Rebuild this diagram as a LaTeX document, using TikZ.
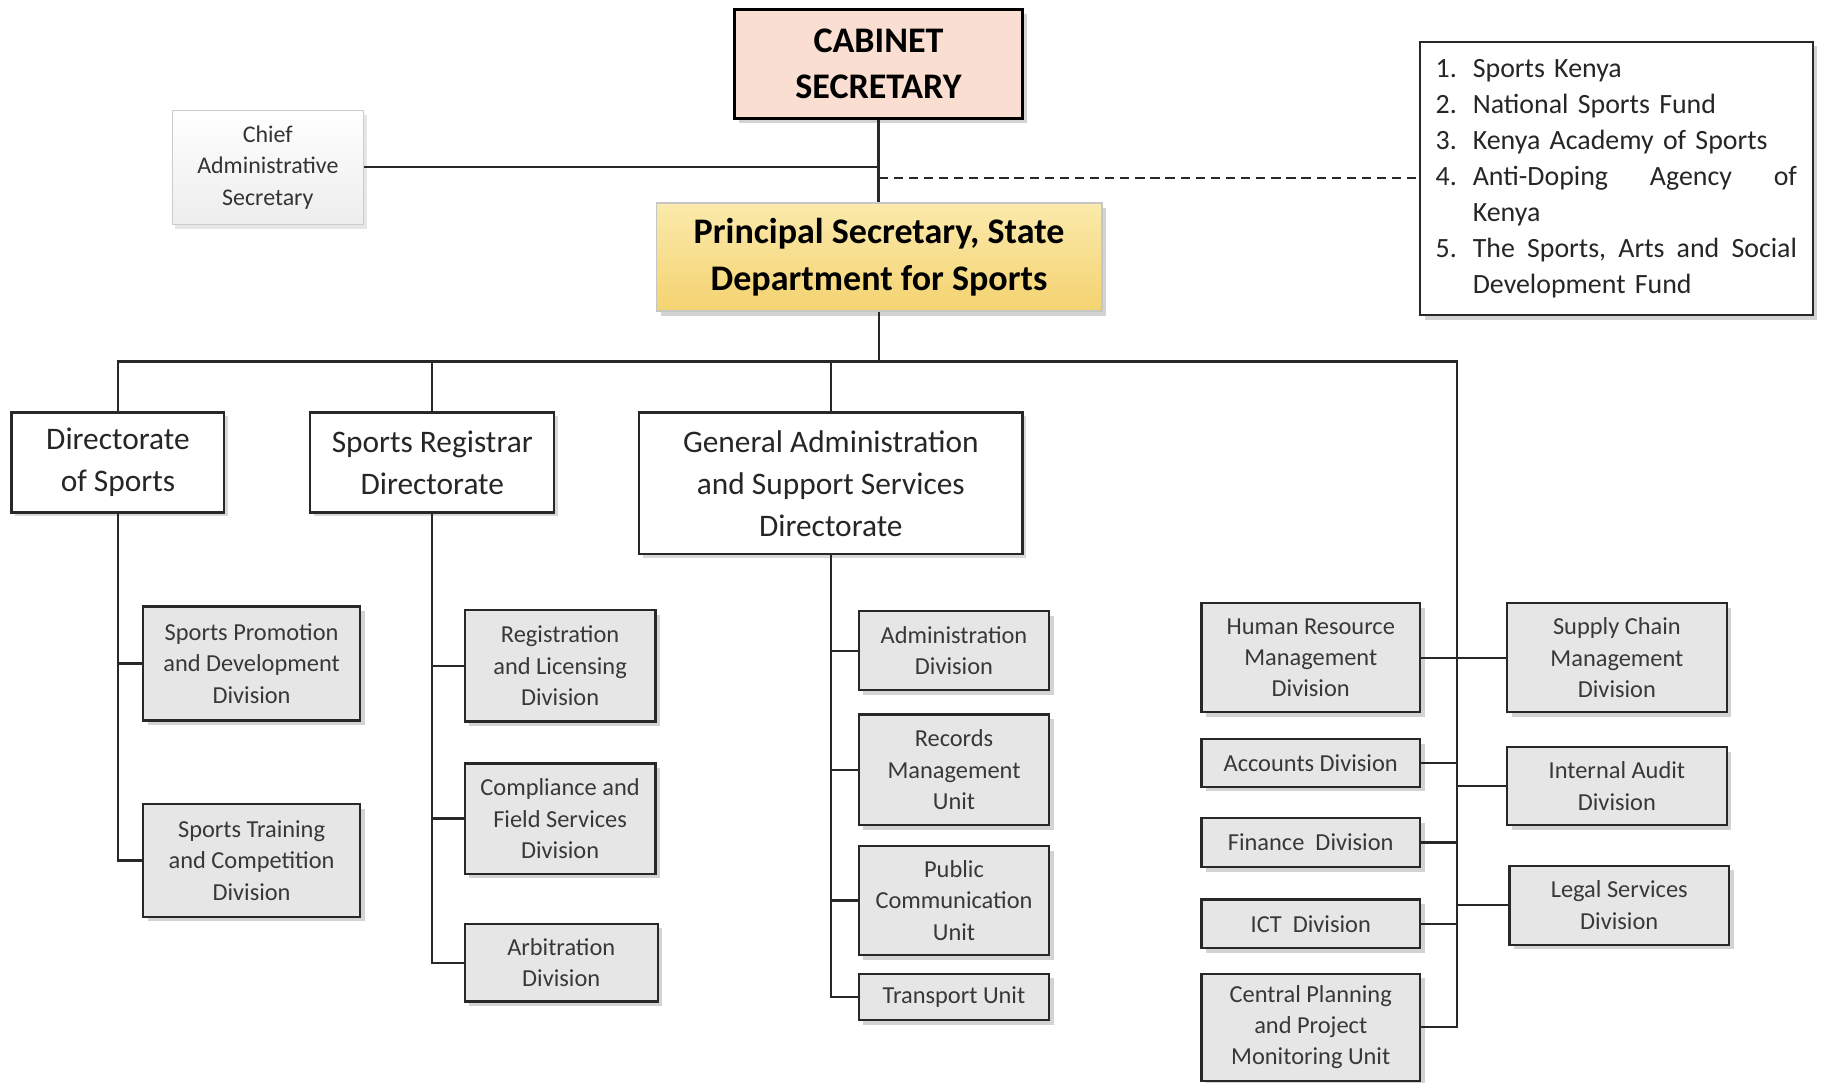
\documentclass[tikz,border=0pt]{standalone}
\usepackage{fontspec}
\setmainfont{Carlito}
\usetikzlibrary{shadows,positioning}

\definecolor{cabinet}{RGB}{249,222,209}
\definecolor{psdark}{RGB}{244,210,112}
\definecolor{pslight}{RGB}{251,234,172}
\definecolor{divgray}{RGB}{231,230,230}
\definecolor{linegray}{RGB}{40,40,40}

\begin{document}
\begin{tikzpicture}[x=0.5pt,y=-0.5pt,
    conn/.style={draw=linegray,line width=1pt},
    dashed link/.style={draw=linegray,line width=.9pt,dash pattern=on 4pt off 2.5pt},
    top node/.style={rectangle,align=center,text=black,
      font=\fontsize{15.5}{20}\selectfont\bfseries,
      drop shadow={shadow xshift=2pt,shadow yshift=-2pt,opacity=.35}},
    cas node/.style={rectangle,top color=white,bottom color=gray!14,draw=gray!40,
      font=\fontsize{10.3}{13.5}\selectfont,align=center,text=black!80,
      drop shadow={shadow xshift=1.5pt,shadow yshift=-2pt,opacity=.2}},
    list node/.style={rectangle,draw=linegray,fill=white,line width=1pt,
      font=\fontsize{12}{15.5}\selectfont,text=black!85,align=left,
      text width=155.5pt,inner xsep=6.75pt,
      drop shadow={shadow xshift=2pt,shadow yshift=-2pt,opacity=.35}},
    dir node/.style={rectangle,draw=linegray,fill=white,line width=1pt,
      font=\fontsize{13.5}{18}\selectfont,align=center,text=black!85,
      drop shadow={shadow xshift=1.5pt,shadow yshift=-1.5pt,opacity=.3}},
    div node/.style={rectangle,draw=linegray,fill=divgray,line width=1pt,
      font=\fontsize{10.5}{13.5}\selectfont,align=center,text=black!78,
      inner sep=1pt,
      drop shadow={shadow xshift=2pt,shadow yshift=-2pt,opacity=.35}}]

    \useasboundingbox (0,0) rectangle (1568,932);

    % top of the chart
    \node[top node,fill=cabinet,draw=black,line width=1.5pt,
      minimum width=124pt,minimum height=47pt] (CS) at (756,55) {CABINET\\SECRETARY};
    \node[top node,top color=pslight,bottom color=psdark,draw=gray!45,line width=.8pt,
      minimum width=191.5pt,minimum height=46.5pt] (PS) at (756.5,221.5)
      {Principal Secretary, State\\Department for Sports};
    \node[cas node,minimum width=82.5pt,minimum height=49pt] (CAS) at (230.5,144)
      {Chief\\Administrative\\Secretary};
    \node[list node,minimum height=117.5pt] (AG) at (1391,153.5) {%
      \makebox[16pt][l]{1.}Sports Kenya\\
      \makebox[16pt][l]{2.}National Sports Fund\\
      \makebox[16pt][l]{3.}Kenya Academy of Sports\\
      \makebox[16pt][l]{4.}\makebox[139.5pt][l]{Anti-Doping\hfill Agency\hfill of}\\
      \hspace*{16pt}Kenya\\
      \makebox[16pt][l]{5.}\makebox[139.5pt][l]{The\hfill Sports,\hfill Arts\hfill and\hfill Social}\\
      \hspace*{16pt}Development Fund};

    % directorates
    \node[dir node,minimum width=91.5pt,minimum height=43pt] (DS) at (101.5,398)
      {Directorate\\of Sports};
    \node[dir node,minimum width=105pt,minimum height=43pt] (SR) at (372,398)
      {Sports Registrar\\Directorate};
    \node[dir node,minimum width=165pt,minimum height=61pt] (GA) at (715,416)
      {General Administration\\and Support Services\\Directorate};

    % divisions under the directorate of sports
    \node[div node,minimum width=93.5pt,minimum height=49pt] (SP) at (216.5,571)
      {Sports Promotion\\and Development\\Division};
    \node[div node,minimum width=93.5pt,minimum height=48.5pt] (ST) at (216.5,740.5)
      {Sports Training\\and Competition\\Division};

    % divisions under the registrar
    \node[div node,minimum width=82pt,minimum height=48pt] (RL) at (482,573)
      {Registration\\and Licensing\\Division};
    \node[div node,minimum width=82pt,minimum height=47.5pt] (CF) at (482,704.5)
      {Compliance and\\Field Services\\Division};
    \node[div node,minimum width=83pt,minimum height=33.5pt] (AR) at (483,828.5)
      {Arbitration\\Division};

    % units under general administration
    \node[div node,minimum width=82pt,minimum height=34pt] (AD) at (821,560)
      {Administration\\Division};
    \node[div node,minimum width=82pt,minimum height=47.5pt] (RM) at (821,662.5)
      {Records\\Management\\Unit};
    \node[div node,minimum width=82pt,minimum height=47pt] (PC) at (821,775)
      {Public\\Communication\\Unit};
    \node[div node,minimum width=82pt,minimum height=20pt] (TU) at (821,858)
      {Transport Unit};

    % support divisions on the right
    \node[div node,minimum width=94pt,minimum height=47pt] (HR) at (1128,566)
      {Human Resource\\Management\\Division};
    \node[div node,minimum width=94pt,minimum height=20.5pt] (AC) at (1128,656.5)
      {Accounts Division};
    \node[div node,minimum width=94pt,minimum height=21pt] (FI) at (1128,725)
      {Finance\ \ Division};
    \node[div node,minimum width=94pt,minimum height=21pt] (IC) at (1128,795)
      {ICT\ \ Division};
    \node[div node,minimum width=94pt,minimum height=46pt] (CP) at (1128,884)
      {Central Planning\\and Project\\Monitoring Unit};
    \node[div node,minimum width=94.5pt,minimum height=47pt] (SC)
      [node distance=131.75pt,right of=HR] {Supply Chain\\Management\\Division};
    \node[div node,minimum width=94.5pt,minimum height=33.5pt] (IA) at (1391.5,676.5)
      {Internal Audit\\Division};
    \node[div node,minimum width=94.5pt,minimum height=34pt] (LS) at (1393.5,779)
      {Legal Services\\Division};

    \coordinate (RT) at (1254,311);

    % connectors
    \path[conn]
    (CS.south) edge (CS.south |- PS.north)
    (CAS) edge (CAS -| CS.south)
    (PS.south) edge (PS.south |- RT)
    (SR.north) edge (SR.north |- RT)
    (GA.north) edge (GA.north |- RT)
    (SP.west) edge (SP.west -| DS.south)
    (RL.west) edge (RL.west -| SR.south)
    (CF.west) edge (CF.west -| SR.south)
    (AD.west) edge (AD.west -| GA.south)
    (RM.west) edge (RM.west -| GA.south)
    (PC.west) edge (PC.west -| GA.south)
    (HR.east) edge (SC.west)
    (AC.east) edge (AC.east -| RT)
    (FI.east) edge (FI.east -| RT)
    (IC.east) edge (IC.east -| RT)
    (IA.west) edge (IA.west -| RT)
    (LS.west) edge (LS.west -| RT)
    ;
    \draw[dashed link] (AG.west -| CS.south) -- (AG.west);
    \draw[conn] (DS.north) |- (RT) -- (RT |- CP.east) -- (CP.east);
    \draw[conn] (DS.south) |- (ST.west);
    \draw[conn] (SR.south) |- (AR.west);
    \draw[conn] (GA.south) |- (TU.west);
\end{tikzpicture}
\end{document}
